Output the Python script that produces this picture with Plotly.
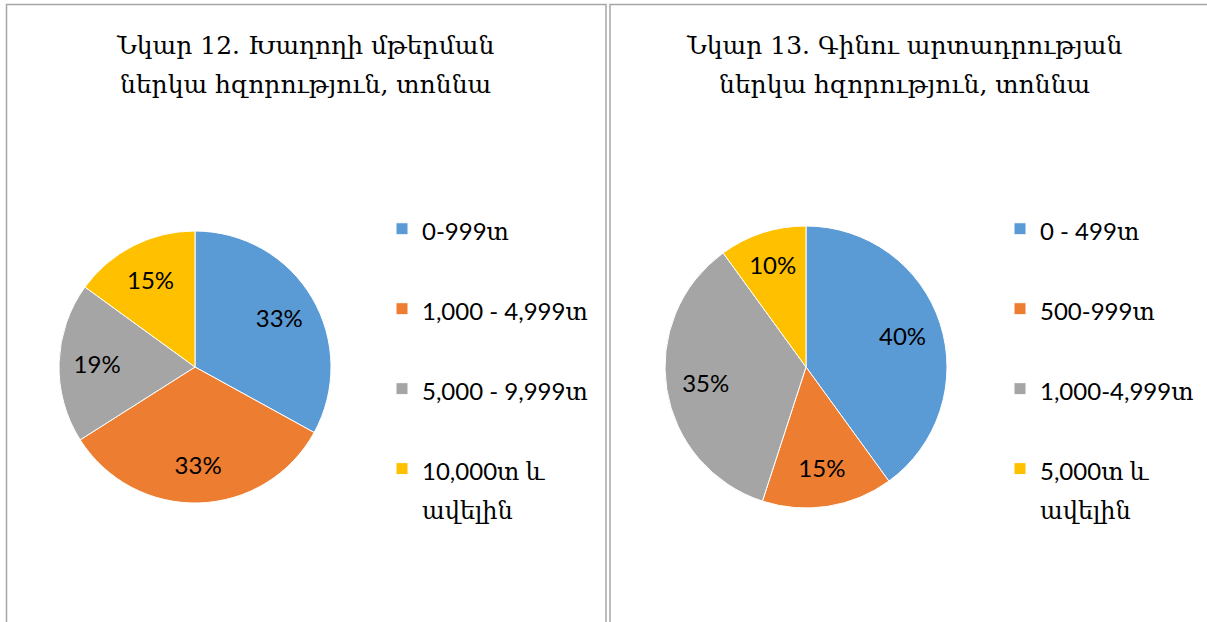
import plotly.graph_objects as go

# ---- data ----
title_left = ["Նկար 12. Խաղողի մթերման", "ներկա հզորություն, տոննա"]
title_right = ["Նկար 13. Գինու արտադրության", "ներկա հզորություն, տոննա"]

cats_left = ["0-999տ", "1,000 - 4,999տ", "5,000 - 9,999տ", "10,000տ և<br>ավելին"]
vals_left = [33, 33, 19, 15]

cats_right = ["0 - 499տ", "500-999տ", "1,000-4,999տ", "5,000տ և<br>ավելին"]
vals_right = [40, 15, 35, 10]

colors = ["#5B9BD5", "#ED7D31", "#A5A5A5", "#FFC000"]

W, H = 1207, 622
SANS = "Lato, 'DejaVu Serif', sans-serif"
SERIF = "'DejaVu Serif', serif"
LEG_FS = 29.6   # controls entry spacing
TXT_FS = 24     # visible text size


def legend_labels(cats):
    out = []
    for c in cats:
        n = c.count("<br>") + 1
        inner = c.replace("<br>", f"</span><br><span style='font-size:{TXT_FS}px'>")
        out.append(f"<span style='font-size:{TXT_FS}px'>{inner}</span>" + "<br> " * (2 - n))
    return out


def dom(cx, cy, r):
    return dict(x=[(cx - r) / W, (cx + r) / W], y=[1 - (cy + r) / H, 1 - (cy - r) / H])


fig = go.Figure()
for cats, vals, d, leg in ((cats_left, vals_left, dom(195, 367, 136), "legend"),
                           (cats_right, vals_right, dom(806, 367, 141), "legend2")):
    labels = legend_labels(cats)
    # coloured slices + legend
    fig.add_trace(go.Pie(
        labels=labels, values=vals, sort=False, direction="clockwise", rotation=0,
        marker=dict(colors=colors, line=dict(color="white", width=1)),
        textinfo="none", domain=d, legend=leg, hoverinfo="percent",
    ))
    # percentage labels placed in the outer ring
    fig.add_trace(go.Pie(
        labels=labels, values=vals, sort=False, direction="clockwise", rotation=0,
        hole=0.44, marker=dict(colors=["rgba(0,0,0,0)"] * len(vals), line=dict(width=0)),
        texttemplate="%{percent:.0%}", textposition="inside", insidetextorientation="horizontal",
        textfont=dict(family=SANS, size=TXT_FS, color="#000000"),
        domain=d, showlegend=False, legend=leg, hoverinfo="percent",
    ))

leg_common = dict(font=dict(family=SANS, size=LEG_FS, color="#000000"), valign="top",
                  bgcolor="rgba(0,0,0,0)", yanchor="top", xanchor="left", traceorder="normal")
fig.update_layout(
    width=W, height=H, margin=dict(l=0, r=0, t=0, b=0),
    paper_bgcolor="white", plot_bgcolor="white", showlegend=True,
    legend=dict(x=382 / W, y=1 - 203 / H, **leg_common),
    legend2=dict(x=1000 / W, y=1 - 203 / H, **leg_common),
)

# titles (one annotation per line)
for cx, lines in ((305, title_left), (904, title_right)):
    for i, line in enumerate(lines):
        fig.add_annotation(x=cx / W, y=1 - (45 + 40 * i) / H, xref="paper", yref="paper",
                           text=line, showarrow=False,
                           font=dict(family=SERIF, size=25, color="#000000"),
                           xanchor="center", yanchor="middle", align="center")

# panel borders
border = dict(color="#A6A6A6", width=1.5)
fig.add_shape(type="path", xref="paper", yref="paper",
              path=f"M {6.5/W} -0.1 L {6.5/W} {1-4.5/H} L {606/W} {1-4.5/H} L {606/W} -0.1",
              line=border)
fig.add_shape(type="path", xref="paper", yref="paper",
              path=f"M {610/W} -0.1 L {610/W} {1-4.5/H} L 1.1 {1-4.5/H}",
              line=border)

fig.write_html("out.html", config={"displayModeBar": False},
               post_script="document.body.style.margin='0';")
